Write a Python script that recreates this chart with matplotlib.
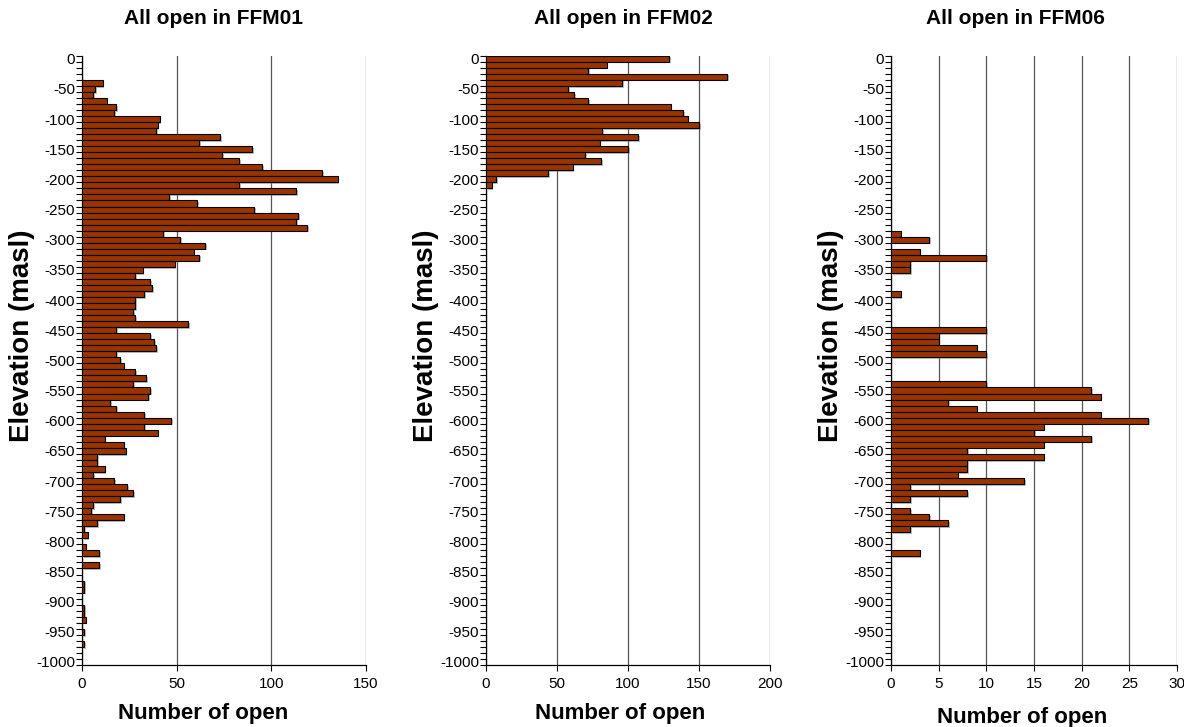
import numpy as np
import matplotlib
matplotlib.use("Agg")
import matplotlib.pyplot as plt
import matplotlib.patheffects as pe

plt.rcParams['font.family'] = ['Liberation Sans', 'DejaVu Sans']
plt.rcParams['axes.unicode_minus'] = False

# open fractures counted in 10 m elevation bins (bin centre, masl)
ffm01_elev = np.arange(-40, -980, -10)
ffm01_count = [11, 7, 6, 13, 18, 17, 41, 40, 39, 73,
               62, 90, 74, 83, 95, 127, 135, 83, 113, 46,
               61, 91, 114, 113, 119, 43, 52, 65, 59, 62,
               49, 32, 28, 36, 37, 33, 28, 28, 27, 28,
               56, 18, 36, 38, 39, 18, 20, 22, 28, 34,
               27, 36, 35, 15, 18, 33, 47, 33, 40, 12,
               22, 23, 8, 8, 12, 6, 17, 24, 27, 20,
               6, 5, 22, 8, 1, 3, 0, 2, 9, 0,
               9, 0, 0, 1, 1, 0, 0, 1, 1, 2,
               0, 1, 0, 1]

ffm02_elev = np.arange(0, -220, -10)
ffm02_count = [129, 85, 72, 170, 96, 58, 62, 72, 130, 139,
               142, 150, 82, 107, 80, 100, 70, 81, 61, 44,
               7, 4]

ffm06_elev = np.arange(-290, -830, -10)
ffm06_count = [1, 4, 0, 3, 10, 2, 2, 0, 0, 0,
               1, 0, 0, 0, 0, 0, 10, 5, 5, 9,
               10, 0, 0, 0, 0, 10, 21, 22, 6, 9,
               22, 27, 16, 15, 21, 16, 8, 16, 8, 8,
               7, 14, 2, 8, 2, 0, 2, 4, 6, 2,
               0, 0, 0, 3]

panels = [
    ("All open in FFM01", ffm01_elev, ffm01_count, 150, 50, 213, 0.426, -0.062),
    ("All open in FFM02", ffm02_elev, ffm02_count, 200, 50, 623, 0.472, -0.062),
    ("All open in FFM06", ffm06_elev, ffm06_count, 30, 5, 1015, 0.458, -0.069),
]
lefts = [82, 486, 891]
widths = [284, 284, 286]

W, H = 1184, 727
fig = plt.figure(figsize=(W / 100, H / 100), dpi=100)
shadow = [pe.SimplePatchShadow(offset=(1.2, -1.2), shadow_rgbFace='#7f7f7f', alpha=0.5), pe.Normal()]

for (title, elev, count, xmax, xstep, tx, xlx, xly), left, width in zip(panels, lefts, widths):
    ax = fig.add_axes([left / W, 1 - 665 / H, width / W, (665 - 55.7) / H])
    elev = np.asarray(elev)
    count = np.asarray(count)
    keep = count > 0
    bars = ax.barh(elev[keep], count[keep], height=10, color='#993300',
                   edgecolor='black', linewidth=0.8, zorder=3)
    for b in bars:
        b.set_path_effects(shadow)

    ax.set_xlim(0, xmax)
    ax.set_ylim(-1005, 5)
    ax.set_xticks(np.arange(0, xmax + 1, xstep))
    ax.set_yticks(np.arange(0, -1001, -50))
    ax.set_yticks(np.arange(5, -1006, -10), minor=True)
    ax.tick_params(axis='y', which='major', length=0, labelsize=11, pad=5)
    ax.tick_params(axis='y', which='minor', length=4, width=0.8)
    ax.tick_params(axis='x', which='major', length=4, width=0.8, labelsize=11, pad=5)
    ax.grid(axis='x', color='#555555', linewidth=0.9, zorder=0)
    ax.set_axisbelow(True)
    for s in ['top', 'right']:
        ax.spines[s].set_visible(False)
    for s in ['left', 'bottom']:
        ax.spines[s].set_linewidth(0.9)

    ax.set_xlabel("Number of open", fontsize=16, fontweight='bold')
    ax.xaxis.set_label_coords(xlx, xly)
    ax.set_ylabel("Elevation (masl)", fontsize=20, fontweight='bold')
    ax.yaxis.set_label_coords(-0.165, 0.54)
    fig.text(tx / W, 1 - 19 / H, title, fontsize=15, fontweight='bold',
             ha='center', va='center')

fig.savefig("out.png", dpi=100)
plt.close(fig)
